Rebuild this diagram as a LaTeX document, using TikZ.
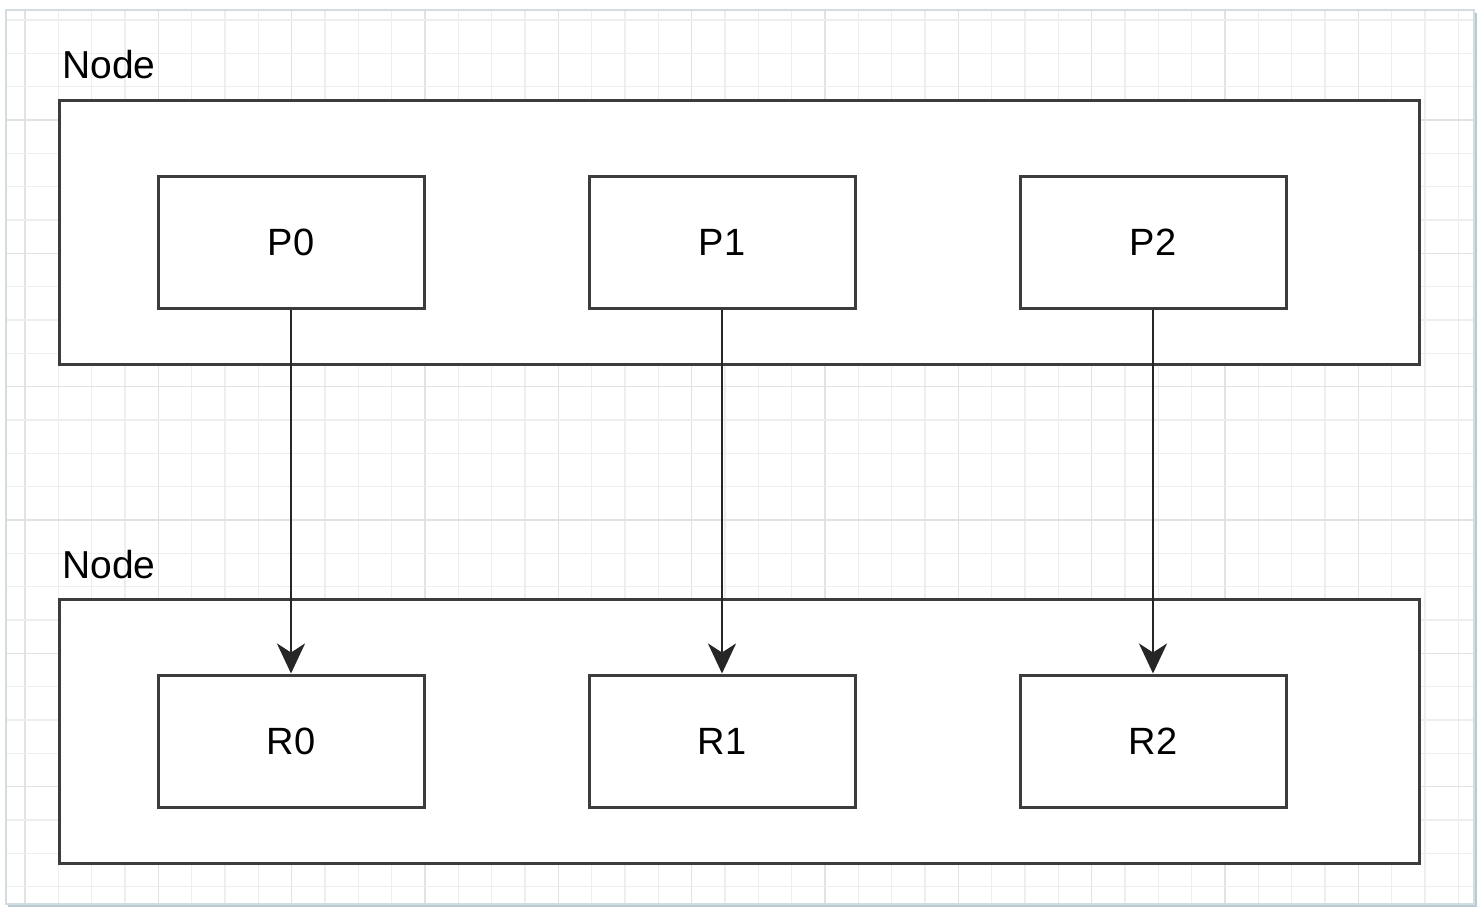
\documentclass[tikz,border=0pt]{standalone}
\usepackage{fontspec}
\setmainfont{Liberation Sans}
\usetikzlibrary{arrows.meta}
\definecolor{gridminor}{HTML}{EEEEEE}
\definecolor{gridmajor}{HTML}{E2E2E2}
\definecolor{framecol}{HTML}{D3DDE1}
\definecolor{shadowcol}{HTML}{B9CAD0}
\definecolor{linecol}{HTML}{3C3C3C}
\tikzset{
  container/.style={draw=linecol, line width=3pt, fill=white, minimum width=1360pt, minimum height=264pt, inner sep=0pt},
  procbox/.style={draw=linecol, line width=3pt, fill=white, minimum width=266pt, minimum height=132pt, inner sep=0pt, font=\fontsize{38}{44}\selectfont},
  grouplabel/.style={anchor=base west, inner sep=0pt, font=\fontsize{39}{45}\selectfont},
  link/.style={draw=black!85, line width=2.6pt, -{Stealth[length=30pt, width=28pt, inset=9pt]}}
}
\begin{document}
\begin{tikzpicture}[x=1pt,y=-1pt]
\useasboundingbox (0,0) rectangle (1484,911);
\fill[white] (0,0) rectangle (1484,911);
% frame with shadow
\fill[shadowcol] (8,13) rectangle (1477,907);
\fill[white] (6,10) rectangle (1474,904);
\begin{scope}
\clip (6,10) rectangle (1474,904);
\foreach \i in {0,...,44} {
  \pgfmathtruncatemacro{\m}{mod(\i,4)}
  \ifnum\m=0
    \draw[gridmajor, line width=1.6pt] (25+33.333*\i,10) -- (25+33.333*\i,904);
  \else
    \draw[gridminor, line width=1.4pt] (25+33.333*\i,10) -- (25+33.333*\i,904);
  \fi
}
\foreach \j in {0,...,27} {
  \pgfmathtruncatemacro{\m}{mod(\j,4)}
  \ifnum\m=3
    \draw[gridmajor, line width=1.6pt] (6,20+33.333*\j) -- (1474,20+33.333*\j);
  \else
    \draw[gridminor, line width=1.4pt] (6,20+33.333*\j) -- (1474,20+33.333*\j);
  \fi
}
\end{scope}
\draw[framecol, line width=1.2pt] (6,10) rectangle (1474,904);

% containers
\node[container] (top) at (739,232) {};
\node[container] (bottom) at (739,731.5) {};
\node[grouplabel] (toplabel) at (62,78) {Node};
\node[grouplabel] (bottomlabel) at (62,578) {Node};

% process boxes
\node[procbox] (P0) at (291,242) {P0};
\node[procbox] (P1) at (722,242) {P1};
\node[procbox] (P2) at (1153,242) {P2};
\node[procbox] (R0) at (291,741) {R0};
\node[procbox] (R1) at (722,741) {R1};
\node[procbox] (R2) at (1153,741) {R2};

% connectors
\draw[link] (P0.south) -- (R0.north);
\draw[link] (P1.south) -- (R1.north);
\draw[link] (P2.south) -- (R2.north);
\end{tikzpicture}
\end{document}
